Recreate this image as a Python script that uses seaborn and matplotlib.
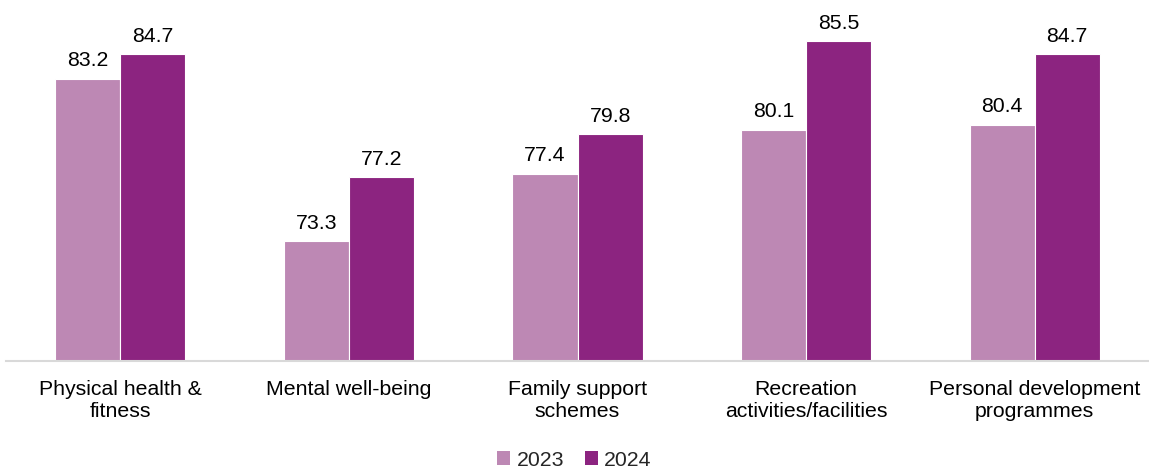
import matplotlib
matplotlib.use("Agg")
import matplotlib.pyplot as plt
import seaborn as sns
import pandas as pd
from matplotlib.patches import Patch

categories = ["Physical health &\nfitness", "Mental well-being", "Family support\nschemes",
              "Recreation\nactivities/facilities", "Personal development\nprogrammes"]
years = ["2023", "2024"]
values_2023 = [83.2, 73.3, 77.4, 80.1, 80.4]
values_2024 = [84.7, 77.2, 79.8, 85.5, 84.7]
colors = ["#BD88B4", "#8C2480"]

df = pd.DataFrame({
    "category": categories * 2,
    "year": [years[0]] * len(categories) + [years[1]] * len(categories),
    "value": values_2023 + values_2024,
})

sns.set_theme(style="white")
plt.rcParams['font.family'] = ['Liberation Sans', 'DejaVu Sans']

fig = plt.figure(figsize=(11.49, 4.72), dpi=100)
ax = fig.add_axes([6/1149, 1 - 360.7/472, 1 - 6/1149, 360.7/472])

sns.barplot(data=df, x="category", y="value", hue="year", palette=colors,
            width=0.57, ax=ax, legend=False, edgecolor="white", linewidth=0.8,
            saturation=1)

ax.set_ylim(66, 88)
fs = 15.3
for cont in ax.containers:
    ax.bar_label(cont, fmt="%.1f", padding=6, fontsize=fs, color="black")

ax.set_xlabel("")
ax.set_ylabel("")
ax.set_yticks([])
ax.tick_params(axis="x", length=0, pad=14, labelsize=fs, labelcolor="black")
for s in ["top", "left", "right"]:
    ax.spines[s].set_visible(False)
ax.spines["bottom"].set_color("#D9D9D9")
ax.spines["bottom"].set_linewidth(1.5)
ax.set_xlim(-0.5, 4.5)

handles = [Patch(facecolor=c, edgecolor="none") for c in colors]
fig.legend(handles, years, loc="center", bbox_to_anchor=(0.5, 1 - 460/472), ncol=2,
           frameon=False, fontsize=fs, handlelength=0.6, handleheight=0.6,
           handletextpad=0.3, columnspacing=1.0)

fig.savefig("out.png", dpi=100)
